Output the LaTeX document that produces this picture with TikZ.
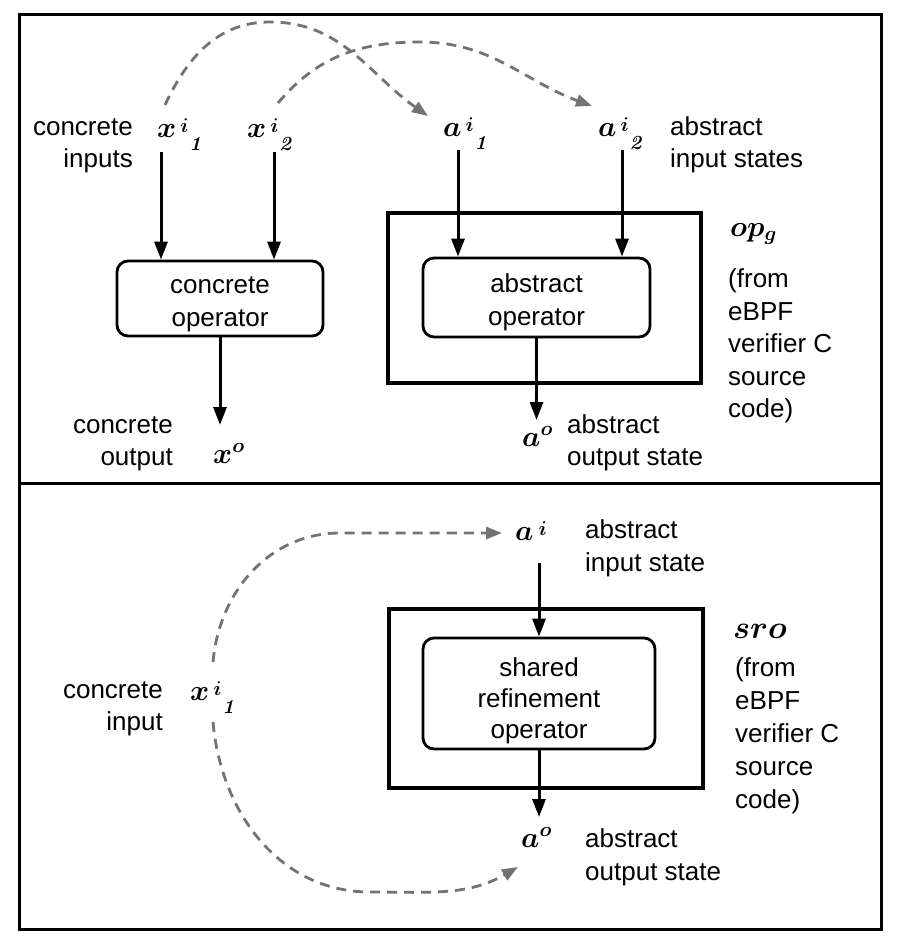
\RequirePackage{fix-cm}
\documentclass[tikz,border=0pt]{standalone}
\usepackage{amsmath}
\usepackage{bm}
\usepackage[no-math]{fontspec}
\setmainfont{Liberation Sans}
\usetikzlibrary{arrows.meta}
\definecolor{dgray}{RGB}{115,115,115}
\newcommand{\smallm}[1]{\fontsize{20}{20}\selectfont$\bm{#1}$}
\newcommand{\ssi}[3]{$\bm{#1}$\hspace{4pt}\raisebox{5pt}{\smallm{#2}}\hspace{1pt}\raisebox{-13pt}{\smallm{\mathit{#3}}}}
\begin{document}
\begin{tikzpicture}[x=1pt,y=-1pt,
  lbl/.style={font=\fontsize{26}{32.5}\selectfont, inner sep=0pt},
  mth/.style={font=\fontsize{29}{34}\selectfont, inner sep=0pt, anchor=base west},
  arr/.style={line width=3pt, -{Triangle[length=18pt,width=13pt]}},
  darr/.style={dgray, line width=2.8pt, dash pattern=on 10pt off 7pt, -{Triangle[length=16pt,width=12pt]}},
  opbox/.style={draw, line width=2.8pt, rounded corners=11pt, align=center, inner sep=0pt,
    font=\fontsize{26}{32.5}\selectfont},
  wrapbox/.style={draw, line width=4pt, inner sep=0pt}
]
\fill[white] (0,0) rectangle (898,952);
\useasboundingbox (0,0) rectangle (898,952);
% frame
\draw[line width=3pt] (19,15) rectangle (881,929);
\draw[line width=3pt] (19,483) -- (881,483);

% ---------- top panel ----------
\node[lbl, anchor=north east, align=right] (conin) at (133,112.25) {\strut concrete\\inputs};
\node[mth] (xi1) at (157,138) {\ssi{x}{i}{1}};
\node[mth] (xi2) at (247,138) {\ssi{x}{i}{2}};
\node[mth] (ai1) at (443,137) {\ssi{a}{i}{1}};
\node[mth] (ai2) at (598,137) {\ssi{a}{i}{2}};
\node[lbl, anchor=north west, align=left] (absin) at (670,112.25) {\strut abstract\\input states};

\node[wrapbox, minimum width=313pt, minimum height=170pt] (opg) at (544.5,298) {};
\node[mth] (opglbl) at (730,236) {$\bm{op}_{\bm{g}}$};
\node[lbl, anchor=north west, align=left] (fromA) at (728,265) {\strut (from\\eBPF\\verifier C\\source\\code)};

\node[opbox, minimum width=206pt, minimum height=75pt] (cop) at (220,298.5) {\rule{0pt}{28pt}concrete\\operator};
\node[opbox, minimum width=227pt, minimum height=79pt] (aop) at (536.5,297.5) {\rule{0pt}{28pt}abstract\\operator};

\coordinate (xi1s) at (161,152);
\coordinate (xi2s) at (274,152);
\coordinate (ai1s) at (458,150);
\coordinate (ai2s) at (622,150);
\draw[arr] (xi1s) -- (cop.north -| xi1s);
\draw[arr] (xi2s) -- (cop.north -| xi2s);
\draw[arr] (ai1s) -- (aop.north -| ai1s);
\draw[arr] (ai2s) -- (aop.north -| ai2s);

\coordinate (xoend) at (220,425);
\coordinate (aoend) at (536.5,420);
\draw[arr] (cop.south) -- (xoend);
\draw[arr] (aop.south) -- (aoend);

\node[lbl, anchor=north east, align=right] (conout) at (173,410.5) {\strut concrete\\output};
\node[mth] (xo) at (213,463) {$\bm{x}^{\bm{o}}$};
\node[mth] (ao) at (522,446) {$\bm{a}^{\bm{o}}$};
\node[lbl, anchor=north west, align=left] (absout) at (567,410.5) {\strut abstract\\output state};

\coordinate (d1s) at (165,105);
\coordinate (d1m) at (270,22);
\coordinate (d1e) at (428,116);
\coordinate (d2s) at (278,103);
\coordinate (d2m) at (420,42);
\coordinate (d2e) at (592,106);
\draw[darr] (d1s) to[out=65,in=180] (d1m) to[out=0,in=145] (d1e);
\draw[darr] (d2s) to[out=50,in=180] (d2m) to[out=0,in=160] (d2e);

% ---------- bottom panel ----------
\node[mth] (aib) at (515,540) {$\bm{a}$\hspace{5pt}\raisebox{5pt}{\smallm{i}}};
\node[lbl, anchor=north west, align=left] (absin2) at (585,516) {\strut abstract\\input state};

\node[wrapbox, minimum width=314pt, minimum height=179pt] (sro) at (546,698.5) {};
\node[mth, font=\fontsize{32}{36}\selectfont] (srolbl) at (733,638) {$\bm{sro}$};
\node[lbl, anchor=north west, align=left, font=\fontsize{26}{33}\selectfont] (fromB) at (735,653.5) {\strut (from\\eBPF\\verifier C\\source\\code)};
\node[opbox, minimum width=232pt, minimum height=111pt, font=\fontsize{26}{31}\selectfont] (sop) at (539,693.5) {\rule{0pt}{33pt}shared\\refinement\\operator};

\node[lbl, anchor=north east, align=right] (conin2) at (163,675.5) {\strut concrete\\input};
\node[mth] (xi1b) at (190,700) {\ssi{x}{i}{1}};

\coordinate (aibs) at (539,563);
\coordinate (aobend) at (539,817);
\draw[arr] (aibs) -- (sop.north -| aibs);
\draw[arr] (sop.south) -- (aobend);

\node[mth] (aob) at (521,847) {$\bm{a}^{\bm{o}}$};
\node[lbl, anchor=north west, align=left, font=\fontsize{26}{33.5}\selectfont] (absout2) at (585,823.5) {\strut abstract\\output state};

\coordinate (d3s) at (213,662);
\coordinate (d3m) at (340,533);
\coordinate (d3e) at (502,533);
\coordinate (d4s) at (213,722);
\coordinate (d4m) at (370,892);
\coordinate (d4e) at (518,867);
\draw[darr] (d3s) to[out=85,in=180] (d3m) -- (d3e);
\draw[darr] (d4s) to[out=-85,in=180] (d4m) to[out=0,in=210] (d4e);
\end{tikzpicture}
\end{document}
